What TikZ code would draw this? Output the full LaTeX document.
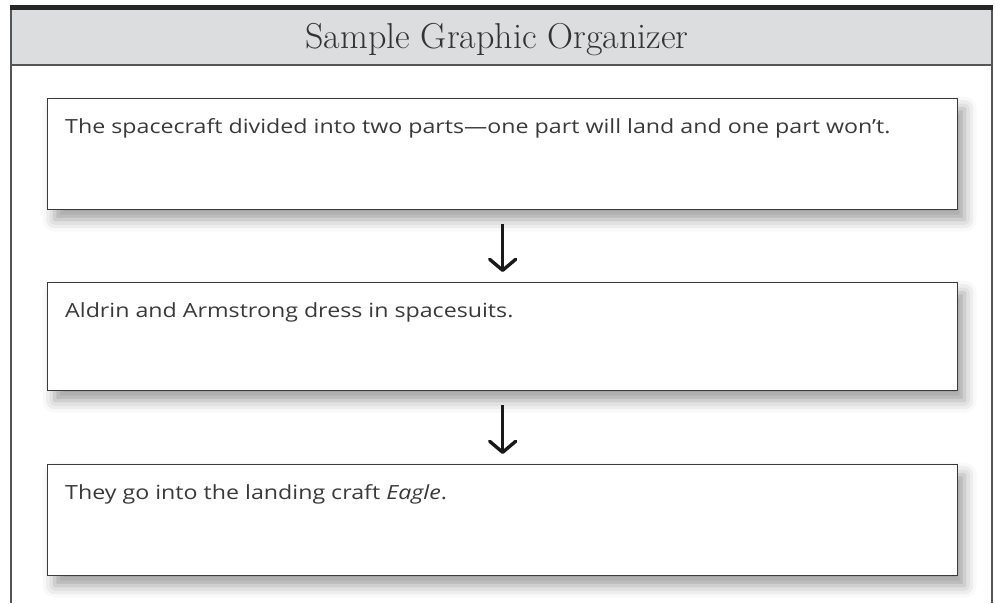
\documentclass[tikz,border=0pt]{standalone}
\usepackage{fontspec}
\newfontfamily\handfont[FakeStretch=1.19]{Open Sans}
\usetikzlibrary{arrows.meta,shadows.blur,calc}

\definecolor{headgray}{HTML}{DCDDDF}
\definecolor{framegray}{HTML}{555555}
\definecolor{inkgray}{HTML}{3A3A3A}

\tikzset{
  stepbox/.style={draw=inkgray, line width=1.3pt, fill=white,
    minimum width=910pt, minimum height=111pt, anchor=north west, inner sep=0pt,
    blur shadow={shadow xshift=7pt, shadow yshift=-10pt, shadow blur radius=12pt,
      shadow opacity=38}},
  boxtext/.style={anchor=base west, inner sep=0pt, text=inkgray,
    font=\handfont\fontsize{19.5}{23}\selectfont},
  flow/.style={draw=black!90, line width=3.4pt,
    -{Straight Barb[length=11pt, width=26pt, line width=3.4pt, round]}},
}

\begin{document}
\begin{tikzpicture}[x=1pt, y=-1pt]
  \useasboundingbox (0,0) rectangle (995,603);

  % header band and frame
  \fill[headgray] (11,9) rectangle (992,65);
  \draw[framegray, line width=1.4pt] (11,65) -- (992,65);
  \draw[framegray, line width=1.4pt] (11,8) -- (11,603);
  \draw[framegray, line width=1.4pt] (992,8) -- (992,603);
  \draw[black!85, line width=4.6pt] (10,7.6) -- (993,7.6);
  \node[text=black!80, font=\fontsize{36}{42}\selectfont, anchor=base] (title)
    at (497,48) {Sample Graphic Organizer};

  % the three sequence boxes
  \node[stepbox] (b1) at (47,98) {};
  \node[stepbox, minimum height=108pt] (b2) at (47,282) {};
  \node[stepbox] (b3) at (47,464) {};

  \node[boxtext] (t1) at (65,133)
    {The spacecraft divided into two parts—one part will land and one part won’t.};
  \node[boxtext] (t2) at (65,317) {Aldrin and Armstrong dress in spacesuits.};
  \node[boxtext] (t3) at (65,499) {They go into the landing craft \textit{Eagle}.};

  % arrows between boxes
  \draw[flow] ($(b1.south)+(0,14)$) -- ($(b2.north)+(0,-10)$);
  \draw[flow] ($(b2.south)+(0,14)$) -- ($(b3.north)+(0,-10)$);
\end{tikzpicture}
\end{document}
